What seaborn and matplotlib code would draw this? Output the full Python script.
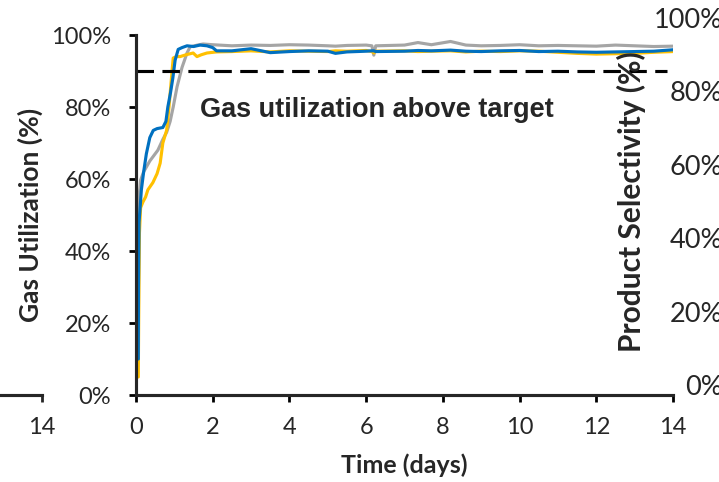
import matplotlib
matplotlib.use('Agg')
import matplotlib.pyplot as plt
import seaborn as sns
from matplotlib.ticker import FuncFormatter

sns.set_style('ticks')
plt.rcParams['font.family'] = ['Lato', 'DejaVu Sans']

# start-up ramp (days, %)
gray_days = [0.03, 0.05, 0.08, 0.12, 0.2, 0.36, 0.5, 0.57, 0.7, 0.8, 0.89, 0.97, 1.07, 1.2, 1.33, 1.41, 1.6, 1.75, 2.0]
gray_ramp = [15, 40, 55, 59.7, 62, 65, 67, 68, 71, 73, 76, 80, 85.6, 91, 95, 96.7, 97.2, 97.5, 97.3]

yellow_days = [0.06, 0.07, 0.09, 0.12, 0.18, 0.25, 0.31, 0.44, 0.55, 0.63, 0.7, 0.8, 0.86, 0.94, 0.97, 1.05, 1.15, 1.3, 1.49, 1.59, 1.7, 1.85, 2.1]
yellow_ramp = [5, 20, 45, 52, 53.6, 55, 57, 59, 61.5, 64.4, 70, 73.6, 80, 90, 93.6, 94, 94, 94.5, 95, 94, 94.5, 95, 95.3]

blue_days = [0.06, 0.065, 0.08, 0.14, 0.2, 0.27, 0.36, 0.45, 0.55, 0.7, 0.78, 0.83, 0.9, 0.96, 1.02, 1.1, 1.2, 1.33, 1.5, 1.67, 1.85, 2.0, 2.1]
blue_ramp = [10, 30, 48, 57, 62, 67, 71.5, 73.5, 74, 74.3, 76, 80, 84, 88, 93, 96, 96.5, 97, 96.8, 97.2, 97, 96.5, 95.6]

# steady state
ss_days = [2.5, 3, 3.5, 4, 4.5, 5, 5.2, 5.5, 6, 6.15, 6.2, 6.25, 7, 7.35, 7.7, 8.2, 8.6, 9, 9.5, 10, 10.5, 11, 11.5, 12, 12.5, 13, 13.5, 14]
gray_ss = [97.0, 97.2, 97.1, 97.3, 97.2, 97.0, 96.9, 97.1, 97.2, 97.0, 94.4, 97.0, 97.2, 97.9, 97.3, 98.2, 97.2, 97.0, 97.1, 97.3, 97.0, 97.1, 97.0, 96.9, 97.2, 97.0, 96.8, 96.9]
yellow_ss = [95.4, 95.6, 95.3, 95.6, 95.5, 95.4, 95.6, 95.5, 95.7, 95.4, 95.0, 95.5, 95.6, 95.4, 95.5, 95.6, 95.3, 95.5, 95.4, 95.6, 95.5, 95.2, 94.9, 94.7, 94.8, 94.9, 95.2, 95.4]
blue_ss = [95.6, 96.2, 95.1, 95.4, 95.6, 95.5, 94.9, 95.3, 95.5, 95.6, 95.6, 95.4, 95.5, 95.7, 95.6, 95.8, 95.5, 95.4, 95.6, 95.7, 95.4, 95.5, 95.3, 95.2, 95.3, 95.4, 95.5, 95.9]

target = 90
x_ticks = [0, 2, 4, 6, 8, 10, 12, 14]
y_ticks = [0, 20, 40, 60, 80, 100]

pct = FuncFormatter(lambda v, p: f'{v:.0f}%')

fig = plt.figure(figsize=(7.19, 4.82), dpi=100)
ax = fig.add_axes([136/719, 87/482, 537/719, 360/482])

lw = 2.25
sns.lineplot(x=gray_days + ss_days, y=gray_ramp + gray_ss, color='#A5A5A5', lw=lw, ax=ax, sort=False)
sns.lineplot(x=yellow_days + ss_days, y=yellow_ramp + yellow_ss, color='#FFC000', lw=lw, ax=ax, sort=False)
sns.lineplot(x=blue_days + ss_days, y=blue_ramp + blue_ss, color='#0070C0', lw=lw, ax=ax, sort=False)
ax.plot([0, 13.85], [target, target], color='black', lw=lw, dashes=(5.6, 2.7))

ax.text(6.27, 79.3, 'Gas utilization above target', ha='center', va='center',
        fontsize=19.5, fontweight='bold', family='Liberation Sans')

ax.set_xlim(0, 14)
ax.set_ylim(0, 100)
ax.set_xticks(x_ticks)
ax.set_yticks(y_ticks)
ax.yaxis.set_major_formatter(pct)
for s in ['top', 'right']:
    ax.spines[s].set_visible(False)
for s in ['left', 'bottom']:
    ax.spines[s].set_linewidth(2.25)
ax.tick_params(axis='both', labelsize=17, width=2, length=5, color='black')
ax.tick_params(axis='y', pad=13)
ax.tick_params(axis='x', pad=11)
ax.set_xlabel('Time (days)', fontsize=18, fontweight='bold')
ax.set_ylabel('Gas Utilization (%)', fontsize=19, fontweight='bold')
ax.yaxis.set_label_coords(-0.173, 0.5)
ax.xaxis.set_label_coords(0.5, -0.162)

# neighbouring panels, cut off at the edges
ax0 = fig.add_axes([-0.3, 87/482, 0.3 + 42/719, 360/482])
ax0.set_xlim(0, 14)
ax0.set_xticks([14])
ax0.set_yticks([])
for s in ['top', 'right', 'left']:
    ax0.spines[s].set_visible(False)
ax0.spines['bottom'].set_linewidth(2.25)
ax0.tick_params(axis='x', labelsize=17, width=2, length=5, pad=11)
ax0.patch.set_alpha(0)

ax2 = fig.add_axes([730/719, 97/482, 0.1, 367/482])
ax2.set_ylim(0, 100)
ax2.set_yticks(y_ticks)
ax2.yaxis.set_major_formatter(pct)
ax2.set_xticks([])
for s in ['top', 'right', 'left', 'bottom']:
    ax2.spines[s].set_visible(False)
ax2.tick_params(axis='y', labelsize=19.5, length=0, pad=5)
ax2.set_ylabel('Product Selectivity (%)', fontsize=21.5, fontweight='bold')
ax2.yaxis.set_label_coords((646 - 730) / 71.9, 0.5)

fig.savefig('out.png', dpi=100)
